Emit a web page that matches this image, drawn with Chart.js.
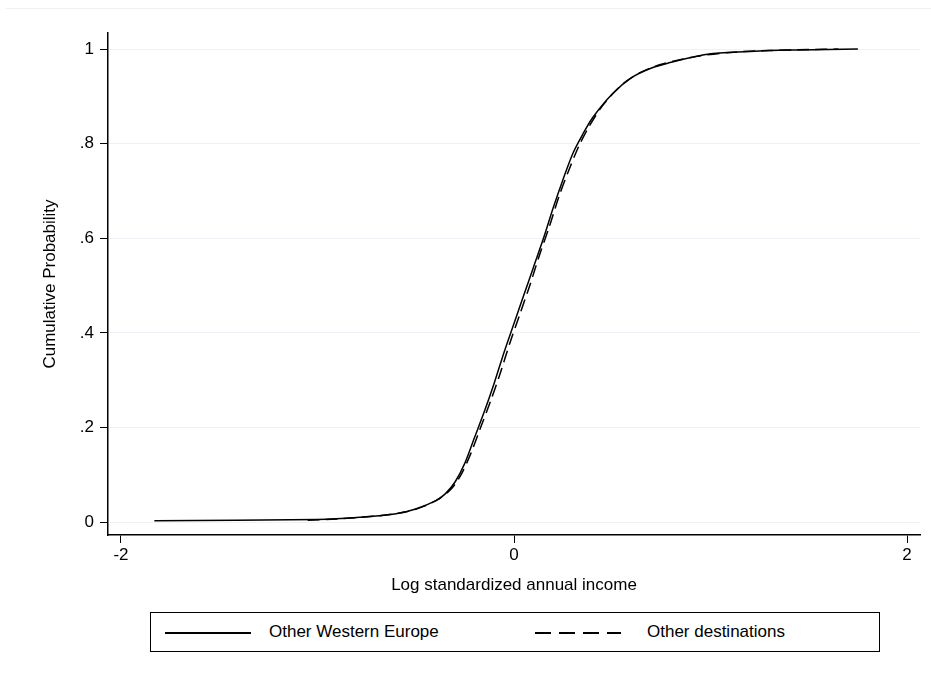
<!DOCTYPE html>
<html><head><meta charset="utf-8">
<script src="https://cdn.jsdelivr.net/npm/chart.js@4"></script>
<style>
body{margin:0;background:#fff;font-family:"Liberation Sans",Arial,sans-serif;}
#wrap{position:relative;width:931px;height:679px;}
#topline{position:absolute;left:6px;right:0;top:8px;border-top:1px solid #eef1f5;}
#c{position:absolute;left:0;top:0;}
#legend{position:absolute;left:150px;top:612px;width:728px;height:38px;border:1px solid #000;font-size:17px;color:#000;}
.it{position:absolute;top:9px;}
.ln{position:absolute;top:19px;height:2px;}
</style></head><body>
<div id="wrap">
<div id="topline"></div>
<canvas id="c" width="931" height="600"></canvas>
<div id="legend">
  <div class="ln" style="left:14px;width:86px;background:#000"></div>
  <div class="it" style="left:118px">Other Western Europe</div>
  <div class="ln" style="left:384px;width:86px;background:repeating-linear-gradient(90deg,#000 0 16px,transparent 16px 24px)"></div>
  <div class="it" style="left:496px">Other destinations</div>
</div>
</div>
<script>
const xWestern = [-1.83,-1.0,-0.8,-0.6,-0.5,-0.4,-0.35,-0.3,-0.25,-0.2,-0.15,-0.1,-0.05,0,0.05,0.1,0.15,0.2,0.25,0.3,0.35,0.4,0.5,0.6,0.7,0.8,0.9,1.0,1.2,1.4,1.6,1.75];
const yWestern = [0.003,0.006,0.01,0.018,0.028,0.045,0.06,0.085,0.125,0.18,0.235,0.295,0.36,0.42,0.48,0.54,0.60,0.665,0.725,0.78,0.82,0.855,0.905,0.94,0.96,0.972,0.982,0.99,0.995,0.998,0.999,1.0];
const xOther = [-1.05,-0.9,-0.7,-0.55,-0.45,-0.38,-0.32,-0.27,-0.22,-0.17,-0.12,-0.07,-0.02,0.03,0.08,0.13,0.18,0.23,0.28,0.33,0.38,0.45,0.55,0.65,0.75,0.85,0.95,1.1,1.3,1.5,1.65];
const yOther = [0.004,0.007,0.013,0.022,0.035,0.05,0.07,0.1,0.145,0.2,0.255,0.315,0.38,0.44,0.50,0.565,0.625,0.69,0.745,0.795,0.835,0.88,0.925,0.952,0.968,0.978,0.986,0.993,0.997,0.999,1.0];
const yTicks = [0,0.2,0.4,0.6,0.8,1];
const xTicks = [-2,0,2];

const pts = (xs, ys) => xs.map((x, i) => ({ x: x, y: ys[i] }));

new Chart(document.getElementById("c"), {
  type: "line",
  data: {
    datasets: [{
      label: "Other Western Europe",
      data: pts(xWestern, yWestern),
      borderColor: "#000", borderWidth: 1.5, pointRadius: 0, tension: 0.3, fill: false
    }, {
      label: "Other destinations",
      data: pts(xOther, yOther),
      borderColor: "#000", borderWidth: 1.5, borderDash: [12, 6], pointRadius: 0, tension: 0.3, fill: false
    }]
  },
  options: {
    responsive: false, animation: false,
    layout: { padding: { top: 33, right: 11, left: 36, bottom: 0 } },
    plugins: { legend: { display: false }, tooltip: { enabled: false } },
    scales: {
      x: {
        type: "linear", min: -2.066, max: 2.066,
        afterBuildTicks: s => { s.ticks = xTicks.map(v => ({ value: v })); },
        afterFit: s => { s.height = 65; },
        border: { display: true, color: "#000", width: 1.5 },
        grid: { drawOnChartArea: false, tickColor: "#000", tickLength: 8 },
        ticks: { color: "#000", font: { size: 17, family: "Liberation Sans" }, padding: 2 },
        title: { display: true, text: "Log standardized annual income", color: "#000", font: { size: 17, family: "Liberation Sans" }, padding: { top: -4 } }
      },
      y: {
        min: -0.027, max: 1.034,
        afterBuildTicks: s => { s.ticks = yTicks.map(v => ({ value: v })); },
        afterFit: s => { s.width = 72; },
        border: { display: true, color: "#000", width: 1.5 },
        grid: { color: "#eef1f5", tickColor: "#000", tickLength: 8 },
        ticks: {
          color: "#000", font: { size: 17, family: "Liberation Sans" }, padding: 6,
          callback: v => v === 0 ? "0" : v === 1 ? "1" : String(v).replace("0.", ".")
        },
        title: { display: true, text: "Cumulative Probability", color: "#000", font: { size: 17, family: "Liberation Sans" } }
      }
    }
  }
});
</script>
</body></html>
